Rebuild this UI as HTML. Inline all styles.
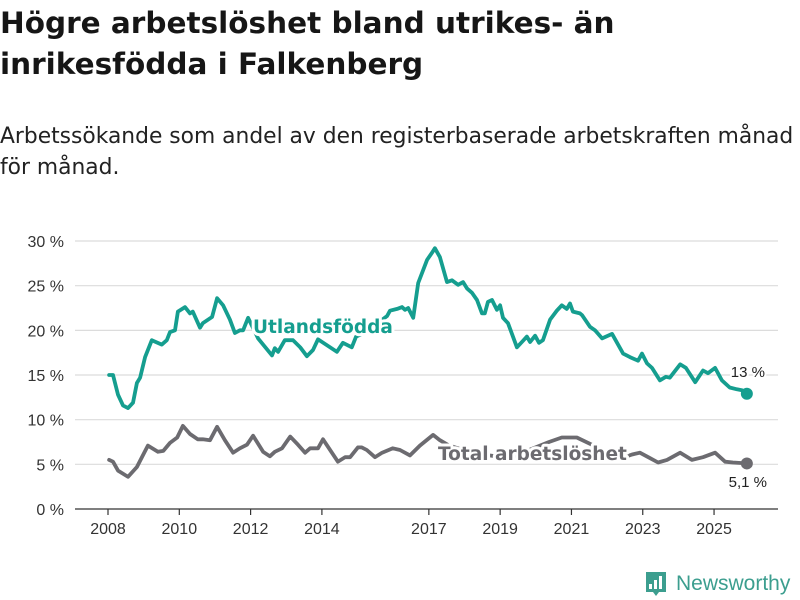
<!DOCTYPE html>
<html><head><meta charset="utf-8"><style>
body{margin:0;width:800px;height:600px;background:#fff;font-family:"Liberation Sans",sans-serif;overflow:hidden;position:relative;color:#111}
h1{position:absolute;left:0;top:3px;margin:0;font-family:"DejaVu Sans",sans-serif;font-size:29.5px;line-height:41px;font-weight:bold;color:#161616;white-space:nowrap}
p.sub{position:absolute;left:0;top:121px;margin:0;font-family:"DejaVu Sans",sans-serif;font-size:21.8px;line-height:31px;color:#222;white-space:nowrap}
svg{position:absolute;left:0;top:0}
</style></head><body>
<h1>Högre arbetslöshet bland utrikes- än<br>inrikesfödda i Falkenberg</h1>
<p class="sub">Arbetssökande som andel av den registerbaserade arbetskraften månad<br>för månad.</p>
<svg id="chart" width="800" height="600"></svg>
<script>
const yTicks=[0,5,10,15,20,25,30];
const yTickLabels=["0 %","5 %","10 %","15 %","20 %","25 %","30 %"];
const xTicks=[2008,2010,2012,2014,2017,2019,2021,2023,2025];
const foreignYears=[2008.03,2008.14,2008.28,2008.42,2008.56,2008.70,2008.81,2008.90,2009.04,2009.23,2009.51,2009.65,2009.74,2009.88,2009.96,2010.16,2010.30,2010.38,2010.58,2010.66,2010.81,2010.92,2011.06,2011.23,2011.42,2011.56,2011.70,2011.79,2011.93,2012.21,2012.35,2012.60,2012.68,2012.77,2012.96,2013.19,2013.39,2013.58,2013.75,2013.89,2014.42,2014.59,2014.84,2014.96,2015.07,2015.35,2015.63,2015.83,2015.91,2016.11,2016.25,2016.33,2016.42,2016.56,2016.70,2016.95,2017.09,2017.17,2017.31,2017.51,2017.65,2017.82,2017.96,2018.07,2018.21,2018.35,2018.49,2018.57,2018.66,2018.77,2018.91,2019.00,2019.08,2019.22,2019.47,2019.61,2019.75,2019.84,2019.98,2020.09,2020.20,2020.40,2020.59,2020.73,2020.87,2020.96,2021.04,2021.24,2021.30,2021.52,2021.66,2021.86,2022.14,2022.45,2022.64,2022.87,2022.98,2023.12,2023.26,2023.48,2023.65,2023.76,2024.05,2024.21,2024.47,2024.69,2024.83,2025.03,2025.22,2025.44,2025.64,2025.78,2025.92];
const foreignValues=[15.0,15.0,12.8,11.6,11.3,11.9,14.1,14.7,17.0,18.9,18.4,18.9,19.8,20.0,22.1,22.6,21.9,22.1,20.3,20.8,21.2,21.5,23.6,22.8,21.2,19.7,20.0,20.0,21.4,19.1,18.4,17.2,18.0,17.6,18.9,18.9,18.1,17.1,17.8,19.0,17.6,18.6,18.1,19.3,19.5,20.2,21.0,21.6,22.2,22.4,22.6,22.3,22.5,21.4,25.3,27.9,28.7,29.2,28.2,25.4,25.6,25.1,25.4,24.7,24.2,23.4,21.9,21.9,23.2,23.4,22.3,22.8,21.4,20.8,18.1,18.7,19.3,18.7,19.4,18.6,18.9,21.2,22.2,22.8,22.4,23.0,22.1,21.9,21.7,20.4,20.0,19.1,19.6,17.4,17.0,16.6,17.4,16.3,15.8,14.4,14.8,14.7,16.2,15.8,14.2,15.5,15.2,15.8,14.4,13.6,13.4,13.3,12.9];
const totalYears=[2008.03,2008.14,2008.28,2008.56,2008.81,2008.95,2009.12,2009.40,2009.55,2009.74,2009.94,2010.10,2010.30,2010.52,2010.66,2010.86,2011.06,2011.28,2011.51,2011.70,2011.90,2012.07,2012.35,2012.54,2012.68,2012.88,2013.11,2013.33,2013.53,2013.67,2013.89,2014.03,2014.28,2014.45,2014.65,2014.79,2015.01,2015.12,2015.26,2015.49,2015.69,2015.99,2016.19,2016.47,2016.75,2017.12,2017.31,2017.57,2018.13,2018.69,2019.25,2019.81,2020.37,2020.73,2021.15,2021.57,2021.99,2022.41,2022.70,2022.92,2023.20,2023.43,2023.68,2024.05,2024.38,2024.69,2025.03,2025.31,2025.53,2025.92];
const totalValues=[5.5,5.3,4.3,3.6,4.7,5.8,7.1,6.4,6.5,7.4,8.0,9.3,8.4,7.8,7.8,7.7,9.2,7.7,6.3,6.8,7.2,8.2,6.4,5.9,6.4,6.8,8.1,7.2,6.3,6.8,6.8,7.8,6.3,5.3,5.8,5.8,6.9,6.9,6.6,5.8,6.3,6.8,6.6,6.0,7.1,8.3,7.7,7.1,6.4,6.0,5.7,6.6,7.5,8.0,8.0,7.2,6.3,5.7,6.1,6.3,5.7,5.2,5.5,6.3,5.5,5.8,6.3,5.3,5.2,5.1];
const NS="http://www.w3.org/2000/svg";
const svg=document.getElementById('chart');
const X=y=>108+(y-2008)*35.65;
const Y=v=>509-v*8.933;
function mk(t,a,p){const e=document.createElementNS(NS,t);for(const k in a)e.setAttribute(k,a[k]);(p||svg).appendChild(e);return e;}
yTicks.forEach((v,i)=>{
  const g=mk('line',{x1:75,x2:778,y1:Y(v),y2:Y(v),stroke:v===0?'#333':'#dcdcdc','stroke-width':1.2});
  
  
  const t=mk('text',{x:64,y:Y(v)+6,'text-anchor':'end','font-size':16,fill:'#333'});
  t.textContent=yTickLabels[i];
  
  
});
xTicks.forEach(yr=>{
  const l=mk('line',{x1:X(yr),x2:X(yr),y1:509,y2:515,stroke:'#333','stroke-width':1.2});
  
  
  const t=mk('text',{x:X(yr),y:534,'text-anchor':'middle','font-size':16,fill:'#333'});
  t.textContent=yr;
  
  
});
function line(xs,vs,col,name){
  const n=Math.min(xs.length,vs.length);
  let d='';
  for(let i=0;i<n;i++)d+=(i?'L':'M')+X(xs[i]).toFixed(1)+','+Y(vs[i]).toFixed(1);
  const p=mk('path',{d:d,fill:'none',stroke:col,'stroke-width':3.8,'stroke-linejoin':'round','stroke-linecap':'round'});
  
  
  const c=mk('circle',{cx:X(xs[n-1]),cy:Y(vs[n-1]),r:6,fill:col});
  
  
}
line(totalYears,totalValues,'#6c6b70','total-line');
line(foreignYears,foreignValues,'#159e8f','foreign-born-line');
function lbl(x,y,txt,col,size,bold,name,anchor){
  const t=mk('text',{x:x,y:y,'font-size':size,'font-weight':bold?'bold':'normal',fill:col,'text-anchor':anchor||'start',stroke:'#fff','stroke-width':bold?6:4,'paint-order':'stroke','stroke-linejoin':'round'});
  if(bold)t.setAttribute('font-family','DejaVu Sans, sans-serif');
  t.textContent=txt;
  
  
}
lbl(253,333,'Utlandsfödda','#159e8f',18.5,true,'foreign-born-label');
lbl(438,460,'Total arbetslöshet','#6c6b70',18.5,true,'total-label');
lbl(765,377,'13 %','#222',15,false,'foreign-end-value','end');
lbl(767,487,'5,1 %','#222',15,false,'total-end-value','end');
const g=mk('g',{});


mk('path',{d:'M646,572h20v20h-7l-3,4l-3,-4h-7z',fill:'#3c9e8f'},g);
mk('rect',{x:649,y:584,width:3,height:5,fill:'#fff'},g);
mk('rect',{x:654,y:580,width:3,height:9,fill:'#fff'},g);
mk('rect',{x:659,y:576,width:3,height:13,fill:'#fff'},g);
const lt=mk('text',{x:676,y:590,'font-size':21,fill:'#3c9e8f'},g);
lt.textContent='Newsworthy';
</script>
</body></html>
